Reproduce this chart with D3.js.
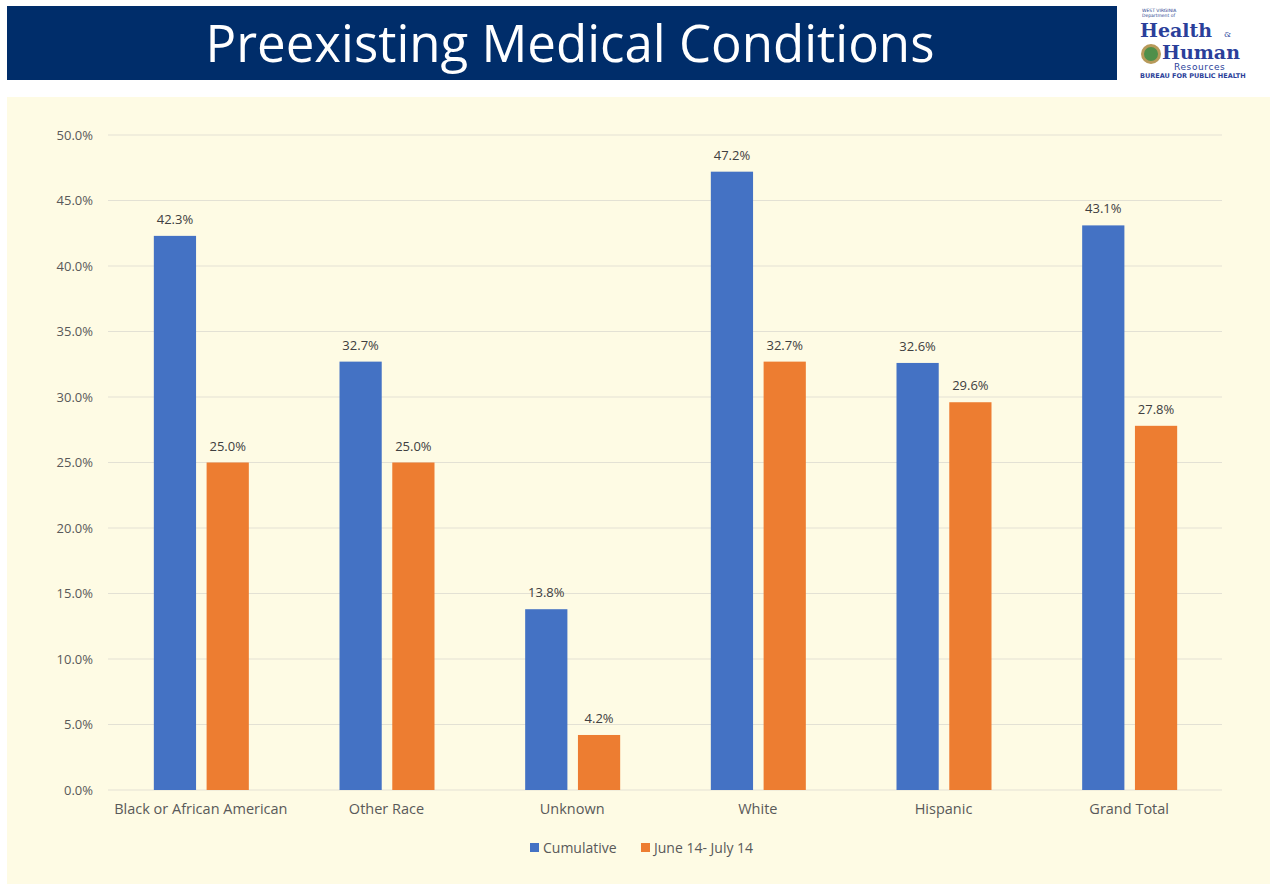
<!DOCTYPE html>
<html>
<head>
<meta charset="utf-8">
<script src="https://cdn.jsdelivr.net/npm/d3@7"></script>
<style>
  body { margin: 0; background: #fff; }
  svg { display: block; }
</style>
</head>
<body>
<div id="chart"></div>
<script>
var categories = ['Black or African American', 'Other Race', 'Unknown', 'White', 'Hispanic', 'Grand Total'];
var seriesNames = ['Cumulative', 'June 14- July 14'];
var cumulative = [42.3, 32.7, 13.8, 47.2, 32.6, 43.1];
var recent = [25.0, 25.0, 4.2, 32.7, 29.6, 27.8];
var yTicks = [0, 5, 10, 15, 20, 25, 30, 35, 40, 45, 50];
var colors = ['#4472C4', '#ED7D31'];

var width = 1276, height = 884;
var svg = d3.select('#chart').append('svg')
    .attr('width', width).attr('height', height);

// title bar
svg.append('rect')
    .attr('x', 7).attr('y', 6).attr('width', 1110).attr('height', 74)
    .attr('fill', '#002D6A');
svg.append('text')
    .attr('x', 570).attr('y', 62)
    .attr('text-anchor', 'middle')
    .style('font-family', 'Open Sans, sans-serif')
    .style('font-size', '51px')
    .style('fill', '#fff')
    .text('Preexisting Medical Conditions');

// logo (text approximation)
var logo = svg.append('g').attr('transform', 'translate(1140,0)');
logo.append('text').attr('x', 2).attr('y', 12)
    .style('font-family', 'DejaVu Sans').style('font-size', '4.5px').style('fill', '#2b3f8f')
    .text('WEST VIRGINIA');
logo.append('text').attr('x', 2).attr('y', 17)
    .style('font-family', 'DejaVu Sans').style('font-size', '4.5px').style('fill', '#2b3f8f')
    .text('Department of');
logo.append('text').attr('x', 0).attr('y', 37)
    .style('font-family', 'DejaVu Serif').style('font-weight', 'bold')
    .style('font-size', '19px').style('fill', '#2b3f9a')
    .text('Health');
logo.append('text').attr('x', 84).attr('y', 37)
    .style('font-family', 'DejaVu Serif').style('font-size', '8px').style('fill', '#2b3f9a')
    .text('&');
logo.append('circle').attr('cx', 11).attr('cy', 54).attr('r', 8.5)
    .attr('fill', '#4f8f4a').attr('stroke', '#b89a5a').attr('stroke-width', 3);
logo.append('text').attr('x', 22).attr('y', 59)
    .style('font-family', 'DejaVu Serif').style('font-weight', 'bold')
    .style('font-size', '19px').style('fill', '#2b3f9a')
    .text('Human');
logo.append('text').attr('x', 34).attr('y', 70)
    .style('font-family', 'DejaVu Sans').style('font-size', '9px').style('fill', '#2b3f9a')
    .style('letter-spacing', '0.6px')
    .text('Resources');
logo.append('text').attr('x', 0).attr('y', 78)
    .style('font-family', 'DejaVu Sans').style('font-weight', 'bold')
    .style('font-size', '6.5px').style('fill', '#2b3f9a')
    .text('BUREAU FOR PUBLIC HEALTH');

// chart panel
svg.append('rect')
    .attr('x', 7).attr('y', 97).attr('width', 1263).attr('height', 787)
    .attr('fill', '#FEFBE4');

var margin = { left: 108, right: 1222, top: 135, bottom: 790 };

var x0 = d3.scaleBand()
    .domain(categories)
    .range([margin.left, margin.right])
    .paddingInner(0).paddingOuter(0);
var x1 = d3.scaleBand()
    .domain(seriesNames)
    .range([x0.bandwidth() / 2 - 47, x0.bandwidth() / 2 + 48])
    .paddingInner(0.2);
var y = d3.scaleLinear()
    .domain([0, 50])
    .range([margin.bottom, margin.top]);

// gridlines
svg.append('g').selectAll('line')
    .data(yTicks)
    .enter().append('line')
    .attr('x1', margin.left).attr('x2', margin.right)
    .attr('y1', d => y(d)).attr('y2', d => y(d))
    .attr('stroke', '#E3E1D4').attr('stroke-width', 1.2);

// y axis labels
var yAxis = d3.axisLeft(y)
    .tickValues(yTicks)
    .tickSize(0)
    .tickPadding(15)
    .tickFormat(d => d.toFixed(1) + '%');
var yg = svg.append('g')
    .attr('transform', 'translate(' + margin.left + ',0)')
    .call(yAxis);
yg.select('.domain').remove();
yg.selectAll('text')
    .style('font-family', 'Open Sans, sans-serif')
    .style('font-size', '13px')
    .style('fill', '#595959');

// x axis labels
var xAxis = d3.axisBottom(x0).tickSize(0).tickPadding(14);
var xg = svg.append('g')
    .attr('transform', 'translate(0,' + margin.bottom + ')')
    .call(xAxis);
xg.select('.domain').remove();
xg.selectAll('text')
    .style('font-family', 'Open Sans, sans-serif')
    .style('font-size', '14.5px')
    .style('fill', '#595959');

// bars
var rows = categories.map((c, i) => ({
    category: c,
    values: [
        { series: seriesNames[0], value: cumulative[i], color: colors[0] },
        { series: seriesNames[1], value: recent[i], color: colors[1] }
    ]
}));

var groups = svg.append('g').selectAll('g')
    .data(rows)
    .enter().append('g')
    .attr('transform', d => 'translate(' + x0(d.category) + ',0)');

groups.selectAll('rect')
    .data(d => d.values)
    .enter().append('rect')
    .attr('x', d => x1(d.series))
    .attr('width', x1.bandwidth())
    .attr('y', d => y(d.value))
    .attr('height', d => y(0) - y(d.value))
    .attr('fill', d => d.color);

groups.selectAll('text')
    .data(d => d.values)
    .enter().append('text')
    .attr('x', d => x1(d.series) + x1.bandwidth() / 2)
    .attr('y', d => y(d.value) - 12)
    .attr('text-anchor', 'middle')
    .style('font-family', 'Open Sans, sans-serif')
    .style('font-size', '13px')
    .style('fill', '#404040')
    .text(d => d.value.toFixed(1) + '%');

// legend
var legend = svg.append('g').attr('transform', 'translate(530,843)');
var legendX = [0, 111];
seriesNames.forEach((name, i) => {
    legend.append('rect')
        .attr('x', legendX[i]).attr('y', 0)
        .attr('width', 9).attr('height', 9)
        .attr('fill', colors[i]);
    legend.append('text')
        .attr('x', legendX[i] + 13).attr('y', 10)
        .style('font-family', 'Open Sans, sans-serif')
        .style('font-size', '14px')
        .style('fill', '#595959')
        .text(name);
});
</script>
</body>
</html>
